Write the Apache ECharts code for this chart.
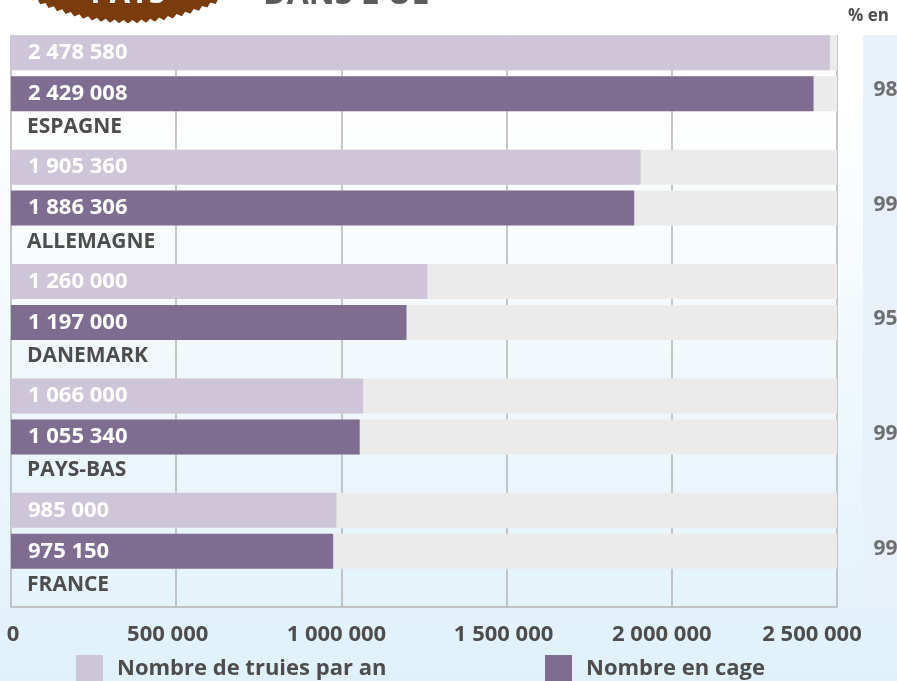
<!DOCTYPE html>
<html><head><meta charset="utf-8">
<script src="https://cdn.jsdelivr.net/npm/echarts@6/dist/echarts.min.js"></script>
<style>
html,body{margin:0;padding:0;}
body{background:linear-gradient(to bottom,#ffffff 0%,#ffffff 14%,#e0f1fa 100%);}
#c{width:897px;height:681px;}
</style></head><body><div id="c"></div>
<script>
// ---- data ----
const countries = ['ESPAGNE', 'ALLEMAGNE', 'DANEMARK', 'PAYS-BAS', 'FRANCE'];
const truiesParAn = [2478580, 1905360, 1260000, 1066000, 985000];
const nombreEnCage = [2429008, 1886306, 1197000, 1055340, 975150];
const pctEnCage = [98, 99, 95, 99, 99];
const xMax = 2500000;
const xStep = 500000;

const fmt = v => String(v).replace(/\B(?=(\d{3})+(?!\d))/g, ' ');
const FONT = '"Open Sans", "Noto Sans", sans-serif';
const TXT = '#4d4d4d';

// tick label nudges (style only): right padding per tick index
const tickPad = [[0, 0, 0, 4], [0, 17, 0, 0], [0, 10, 0, 0], [0, 6, 0, 0], [0, 20, 0, 0], [0, 50, 0, 0]];
const tickRich = {};
tickPad.forEach((p, i) => {
  tickRich['t' + i] = {padding: p, color: TXT, fontSize: 22, fontWeight: 'bold', fontFamily: FONT};
});

// decorative seal (bottom part visible)
const seal = [];
(function () {
  const cx = 127.5, cy = -185, ro = 208.5, ri = 205;
  const a0 = 50 * Math.PI / 180, a1 = 130 * Math.PI / 180;
  const step = 4.5 / 207;
  let k = 0;
  for (let a = a0; a <= a1; a += step, k++) {
    const r = k % 2 ? ri : ro;
    seal.push([cx + r * Math.cos(a), cy + r * Math.sin(a)]);
  }
  seal.push([cx - 140, -60]);
  seal.push([cx + 140, -60]);
  seal.reverse();
})();

const chart = echarts.init(document.getElementById('c'), null, {renderer: 'canvas'});
const valueLabel = {
  show: true, position: 'insideLeft', distance: 17,
  formatter: p => fmt(p.value), color: '#ffffff',
  fontSize: 22, fontWeight: 'bold', fontFamily: FONT
};
const legendText = {color: TXT, fontSize: 22, fontWeight: 'bold', fontFamily: FONT, padding: [0, 0, 0, 9]};
chart.setOption({
  backgroundColor: 'transparent',
  animation: false,
  textStyle: {fontFamily: FONT},
  grid: [
    {left: 11, right: 60, top: 35, bottom: 74, containLabel: false},
    {left: 863, width: 40, top: 35, bottom: 73, show: true, backgroundColor: '#e8f1fa', borderWidth: 0}
  ],
  xAxis: [
    {
      type: 'value', min: 0, max: xMax, interval: xStep, gridIndex: 0,
      axisLine: {show: true, lineStyle: {color: '#b4b4b4', width: 1.5}},
      axisTick: {show: false},
      splitLine: {show: true, lineStyle: {color: '#b4b4b4', width: 1.5}},
      axisLabel: {
        formatter: v => '{t' + Math.round(v / xStep) + '|' + fmt(v) + '}',
        rich: tickRich,
        color: TXT, fontSize: 22, fontWeight: 'bold', fontFamily: FONT, margin: 17
      }
    },
    {type: 'value', min: 0, max: 1, gridIndex: 1, show: false}
  ],
  yAxis: [
    {
      type: 'category', data: countries, inverse: true, gridIndex: 0,
      axisLine: {show: false}, axisTick: {show: false}, axisLabel: {show: false},
      splitLine: {show: false}
    },
    {type: 'category', data: countries, inverse: true, gridIndex: 1, show: false}
  ],
  legend: [
    {
      data: ['Nombre de truies par an'], left: 76, top: 655, padding: 0, icon: 'rect',
      itemWidth: 27, itemHeight: 27, selectedMode: false, textStyle: legendText
    },
    {
      data: ['Nombre en cage'], left: 545, top: 655, padding: 0, icon: 'rect',
      itemWidth: 27, itemHeight: 27, selectedMode: false, textStyle: legendText
    }
  ],
  series: [
    {
      name: 'Nombre de truies par an', type: 'bar', data: truiesParAn,
      barWidth: 35, barGap: '17%',
      itemStyle: {color: '#cec6d8'},
      showBackground: true, backgroundStyle: {color: '#ebebeb'},
      label: valueLabel
    },
    {
      name: 'Nombre en cage', type: 'bar', data: nombreEnCage,
      barWidth: 35, barGap: '17%',
      itemStyle: {color: '#7f6d91'},
      showBackground: true, backgroundStyle: {color: '#ebebeb'},
      label: valueLabel
    },
    {
      name: 'pays', type: 'bar', data: truiesParAn, silent: true,
      barWidth: 32, barGap: '17%',
      itemStyle: {color: 'rgba(0,0,0,0)'},
      label: {
        show: true, position: 'insideLeft', distance: 16, offset: [0, -6],
        formatter: p => p.name, color: TXT,
        fontSize: 21, fontWeight: 'bold', fontFamily: FONT
      }
    },
    {
      name: '% en cage', type: 'scatter', xAxisIndex: 1, yAxisIndex: 1,
      data: pctEnCage.map((v, i) => [0, countries[i], v]),
      symbolSize: 1, itemStyle: {color: 'rgba(0,0,0,0)'}, silent: true,
      label: {
        show: true, position: 'right', distance: 10, offset: [0, -2],
        formatter: p => p.value[2] + ' %', color: TXT,
        fontSize: 21, fontWeight: 'bold', fontFamily: FONT
      }
    }
  ],
  graphic: [
    {type: 'polygon', shape: {points: seal}, style: {fill: '#7a3c0c'}, silent: true},
    {type: 'text', style: {text: 'PAYS', x: 128, y: -6, fill: '#ffffff', font: 'bold 30px ' + FONT, align: 'center', verticalAlign: 'middle'}},
    {type: 'text', style: {text: "DANS L'UE", x: 263, y: -5, fill: '#5b5b5b', font: 'bold 32px ' + FONT, align: 'left', verticalAlign: 'middle'}},
    {type: 'text', style: {text: '% en', x: 848, y: 16, fill: TXT, font: 'bold 17px ' + FONT, align: 'left', verticalAlign: 'middle'}}
  ]
});
</script></body></html>
